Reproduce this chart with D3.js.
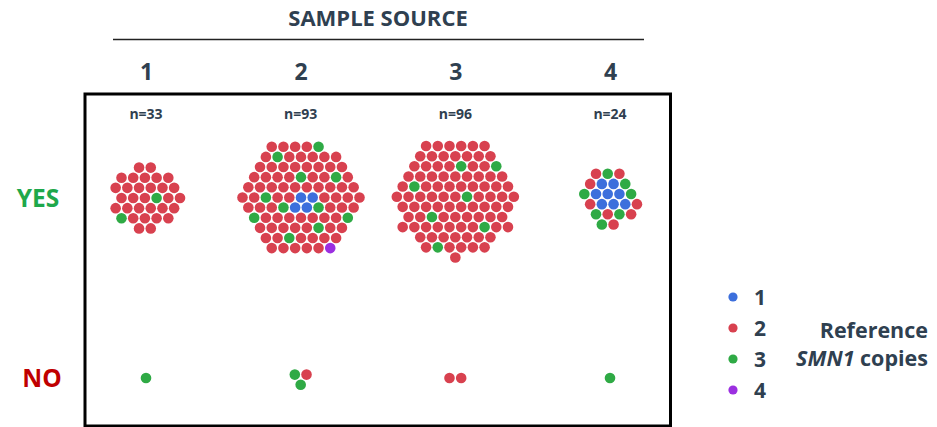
<!DOCTYPE html>
<html>
<head>
<meta charset="utf-8">
<script src="https://cdn.jsdelivr.net/npm/d3@7"></script>
<style>
  html, body { margin: 0; padding: 0; background: #fff; }
  svg { display: block; font-family: "Open Sans", "DejaVu Sans", sans-serif; }
</style>
</head>
<body>
<svg id="chart" width="937" height="427"></svg>
<script>
// ---- data ----
const groups = ["1", "2", "3", "4"];
const outcomes = ["YES", "NO"];
const copyLevels = [1, 2, 3, 4];
// counts of samples per group (sample source) for each reference SMN1 copy number
const yesCopy1 = [0, 4, 0, 8];
const yesCopy2 = [30, 74, 87, 8];
const yesCopy3 = [2, 11, 7, 7];
const yesCopy4 = [0, 1, 0, 0];
const noCopy1 = [0, 0, 0, 0];
const noCopy2 = [0, 1, 2, 0];
const noCopy3 = [1, 2, 0, 1];
const noCopy4 = [0, 0, 0, 0];
const legendLabels = ["1", "2", "3", "4"];

const countsByOutcome = {
  YES: [yesCopy1, yesCopy2, yesCopy3, yesCopy4],
  NO: [noCopy1, noCopy2, noCopy3, noCopy4]
};

// ---- styling ----
const colorScale = d3.scaleOrdinal()
  .domain(copyLevels)
  .range(["#3c6fdc", "#d8414f", "#2faa45", "#9b2fe0"]);
const textColor = "#2f4050";
const R = 5.3, D = 11.7;

const svg = d3.select("#chart");

const x = d3.scalePoint().domain(groups).range([146, 610]);
const y = d3.scalePoint().domain(outcomes).range([198, 378]);

// ---- header ----
svg.append("text").attr("x", 378).attr("y", 26)
  .attr("text-anchor", "middle").attr("font-size", 22).attr("font-weight", 700)
  .attr("fill", textColor).text("SAMPLE SOURCE");
svg.append("line").attr("x1", 113).attr("x2", 644).attr("y1", 39.5).attr("y2", 39.5)
  .attr("stroke", "#222").attr("stroke-width", 1.6);

// column axis (top)
const topAxis = d3.axisTop(x).tickSize(0).tickPadding(0);
const gTop = svg.append("g").attr("transform", "translate(0,80)").call(topAxis);
gTop.select(".domain").remove();
gTop.selectAll("text").attr("font-size", 23).attr("font-weight", 700)
  .attr("fill", textColor).attr("font-family", "'Open Sans', sans-serif");

// row labels
const rowColors = { YES: "#1ea84b", NO: "#c00000" };
svg.selectAll("text.rowlab").data(outcomes).join("text")
  .attr("class", "rowlab")
  .attr("x", d => d === "YES" ? 38 : 42)
  .attr("y", d => y(d) + 9)
  .attr("text-anchor", "middle").attr("font-size", 24.5).attr("font-weight", 700)
  .attr("fill", d => rowColors[d]).text(d => d);

// frame
svg.append("rect").attr("x", 85).attr("y", 94).attr("width", 585.5).attr("height", 332)
  .attr("fill", "none").attr("stroke", "#000").attr("stroke-width", 3);

// n labels
svg.selectAll("text.nlab").data(groups).join("text")
  .attr("class", "nlab")
  .attr("x", d => x(d)).attr("y", 119)
  .attr("text-anchor", "middle").attr("font-size", 14).attr("font-weight", 700)
  .attr("fill", textColor)
  .text((d, gi) => "n=" + d3.sum(outcomes, o => d3.sum(countsByOutcome[o], arr => arr[gi])));

// ---- hex packing layout ----
const lattice = [];
for (let j = -12; j <= 12; j++) {
  for (let i = -12; i <= 12; i++) {
    const px = (i + (Math.abs(j) % 2 ? 0.5 : 0)) * D;
    const py = j * D * Math.sqrt(3) / 2;
    let a = Math.atan2(py, px); if (a < -1e-9) a += 2 * Math.PI;
    lattice.push({ px, py, dist: Math.round(Math.hypot(px, py) * 1000) / 1000, a });
  }
}
lattice.sort((p, q) => p.dist - q.dist || p.a - q.a);

const GOLDEN = Math.PI * (3 - Math.sqrt(5));

function buildCluster(counts, cx, cy) {
  const n = d3.sum(counts);
  if (!n) return [];
  const cells = lattice.slice(0, n).map(c => ({ ...c }));
  const mx = d3.mean(cells, c => c.px), my = d3.mean(cells, c => c.py);
  cells.forEach(c => { c.x = c.px - mx; c.y = c.py - my; });
  // copy 1 at the centre
  for (let i = 0; i < counts[0]; i++) cells[i].copy = 1;
  // copy 4 on the outer edge, lowest cells first
  const outer = cells.slice(counts[0]).sort((p, q) => q.dist - p.dist || q.y - p.y);
  for (let i = 0; i < counts[3]; i++) outer[i].copy = 4;
  // copies 2 and 3 share the remaining cells; the rarer one is spread evenly (sunflower targets)
  const free = cells.filter(c => !c.copy);
  const minority = counts[2] <= counts[1] ? 3 : 2;
  const majority = minority === 3 ? 2 : 3;
  const m = counts[minority - 1];
  const rc = Math.sqrt(n * 0.866 / Math.PI) * D * 0.92;
  for (let j = 0; j < m; j++) {
    const r = rc * Math.sqrt((j + 0.5) / m), th = j * GOLDEN;
    const tx = r * Math.cos(th), ty = r * Math.sin(th);
    const best = d3.least(free.filter(c => !c.copy), c => (c.x - tx) ** 2 + (c.y - ty) ** 2);
    best.copy = minority;
  }
  free.forEach(c => { if (!c.copy) c.copy = majority; });
  return cells.map(c => ({ cx: cx + c.x, cy: cy + c.y, copy: c.copy }));
}

const dots = [];
outcomes.forEach(o => {
  groups.forEach((g, gi) => {
    const counts = countsByOutcome[o].map(arr => arr[gi]);
    dots.push(...buildCluster(counts, x(g), y(o)));
  });
});

svg.append("g").selectAll("circle").data(dots).join("circle")
  .attr("cx", d => d.cx).attr("cy", d => d.cy).attr("r", R)
  .attr("fill", d => colorScale(d.copy));

// ---- legend ----
const ly = d3.scalePoint().domain(copyLevels).range([297, 390]);
const lg = svg.append("g");
lg.selectAll("circle").data(copyLevels).join("circle")
  .attr("cx", 733).attr("cy", d => ly(d)).attr("r", 4.6).attr("fill", d => colorScale(d));
lg.selectAll("text").data(copyLevels).join("text")
  .attr("x", 754).attr("y", d => ly(d) + 7.5)
  .attr("font-size", 21).attr("font-weight", 700).attr("fill", textColor)
  .text((d, i) => legendLabels[i]);
svg.append("text").attr("x", 928).attr("y", 337.5).attr("text-anchor", "end")
  .attr("font-size", 21.5).attr("font-weight", 700).attr("fill", textColor).text("Reference");
const t2 = svg.append("text").attr("x", 928).attr("y", 366).attr("text-anchor", "end")
  .attr("font-size", 21.5).attr("font-weight", 700).attr("fill", textColor);
t2.append("tspan").attr("font-style", "italic").text("SMN1");
t2.append("tspan").text(" copies");
</script>
</body>
</html>
